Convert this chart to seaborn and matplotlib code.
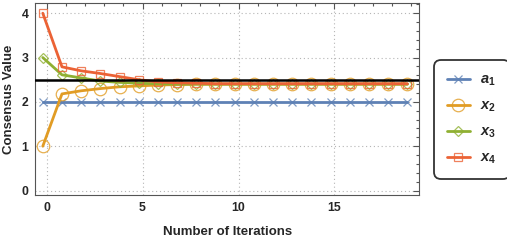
import numpy as np
import pandas as pd
import seaborn as sns
import matplotlib.pyplot as plt
from matplotlib.ticker import MultipleLocator

# iterations (markers sit slightly left of the integer ticks in the original)
iterations = np.arange(20) - 0.2
a1 = [2.0] * 20
x2 = [1.0, 2.18, 2.25, 2.30, 2.34, 2.36, 2.38, 2.39, 2.40, 2.40,
      2.40, 2.40, 2.40, 2.40, 2.40, 2.40, 2.40, 2.40, 2.40, 2.40]
x3 = [3.0, 2.61, 2.54, 2.47, 2.44, 2.42, 2.41, 2.40, 2.40, 2.40,
      2.40, 2.40, 2.40, 2.40, 2.40, 2.40, 2.40, 2.40, 2.40, 2.40]
x4 = [4.0, 2.79, 2.70, 2.64, 2.57, 2.50, 2.45, 2.43, 2.42, 2.41,
      2.41, 2.41, 2.41, 2.41, 2.41, 2.41, 2.41, 2.41, 2.41, 2.41]
average = 2.5

series = {
    r'$\mathbfit{a}_{\mathbf{1}}$': (a1, '#5E81B5', 'x', 5.5),
    r'$\mathbfit{x}_{\mathbf{2}}$': (x2, '#E19C24', 'o', 9),
    r'$\mathbfit{x}_{\mathbf{3}}$': (x3, '#8FB032', 'D', 5.5),
    r'$\mathbfit{x}_{\mathbf{4}}$': (x4, '#EB6235', 's', 6),
}

sns.set_style("white")
plt.rcParams['font.family'] = ['Liberation Sans', 'DejaVu Sans']
plt.rcParams['font.weight'] = 'bold'
plt.rcParams['mathtext.fontset'] = 'custom'
plt.rcParams['mathtext.bf'] = 'Liberation Sans:bold'
plt.rcParams['mathtext.bfit'] = 'Liberation Sans:italic:bold'
plt.rcParams['mathtext.it'] = 'Liberation Sans:italic:bold'

fig = plt.figure(figsize=(5.07, 2.4), dpi=100)
ax = fig.add_axes([0.070, 0.1875, 0.757, 0.800])

for name, (vals, col, mk, ms) in series.items():
    df = pd.DataFrame({'it': iterations, 'val': vals})
    edge = (*plt.matplotlib.colors.to_rgb(col), 0.8)
    sns.lineplot(data=df, x='it', y='val', ax=ax, color=col, lw=2,
                 marker=mk, markersize=ms, markerfacecolor='none',
                 markeredgecolor=edge, markeredgewidth=0.9, label=name)

ax.axhline(average, color='black', lw=1.8, zorder=5)

ax.set_xlim(-0.58, 19.42)
ax.set_ylim(-0.1, 4.23)
ax.xaxis.set_major_locator(MultipleLocator(5))
ax.xaxis.set_minor_locator(MultipleLocator(1))
ax.yaxis.set_major_locator(MultipleLocator(1))
ax.yaxis.set_minor_locator(MultipleLocator(0.2))
ax.tick_params(which='both', direction='in', top=True, right=True,
               color='#555555', width=0.8, labelsize=8.8, pad=5)
ax.tick_params(which='major', length=4)
ax.tick_params(which='minor', length=2)
for lab in ax.get_xticklabels() + ax.get_yticklabels():
    lab.set_fontweight('bold')
ax.grid(True, which='major', color='#b5b5b5', lw=0.8, ls=(0, (1, 2.5)))
for s in ax.spines.values():
    s.set_color('#555555')
    s.set_linewidth(0.8)

ax.set_xlabel('Number of Iterations', fontsize=9.5, fontweight='bold', labelpad=9)
ax.set_ylabel('Consensus Value', fontsize=9.5, fontweight='bold', labelpad=5)

leg = ax.legend(loc='center left', bbox_to_anchor=(1.045, 0.393), fontsize=10.5,
                frameon=True, fancybox=True, edgecolor='black',
                borderaxespad=0, handlelength=1.6, borderpad=0.7,
                labelspacing=0.72, handletextpad=0.7)
leg.get_frame().set_linewidth(1.3)
leg.get_frame().set_boxstyle('round,pad=0.2,rounding_size=0.5')

fig.savefig('out.png', dpi=100)
